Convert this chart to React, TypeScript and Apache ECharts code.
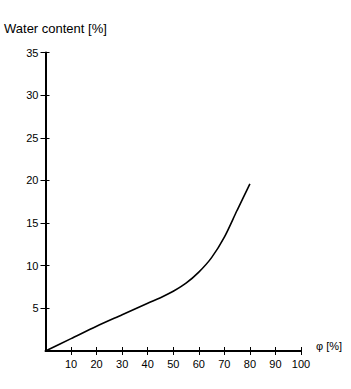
import React, { useEffect, useRef } from "react";
import * as echarts from "echarts";

const phi = [0, 10, 20, 30, 40, 45, 50, 55, 60, 65, 70, 75, 80];
const water = [0, 1.45, 2.9, 4.25, 5.6, 6.25, 7.0, 7.95, 9.25, 10.95, 13.35, 16.5, 19.6];
const yTitle = "Water content [%]";
const xTitle = "φ [%]";

export default function App() {
  const ref = useRef<HTMLDivElement>(null);
  useEffect(() => {
    if (!ref.current) return;
    const chart = echarts.init(ref.current, undefined, { renderer: "svg" });
    const font = "'Liberation Sans', Arial, sans-serif";
    const baseX = {
      type: "value",
      min: 0,
      max: 100,
      interval: 10,
      position: "bottom",
      splitLine: { show: false },
    };
    const baseY = {
      type: "value",
      min: 0,
      max: 35,
      interval: 5,
      position: "left",
      splitLine: { show: false },
    };
    chart.setOption({
      animation: false,
      backgroundColor: "#fff",
      grid: { left: 45.5, right: 50, top: 52.5, bottom: 38, containLabel: false },
      xAxis: [
        {
          ...baseX,
          axisLine: { show: true, lineStyle: { color: "#000", width: 2 } },
          axisTick: { show: true, length: 4, lineStyle: { color: "#000", width: 1 } },
          axisLabel: { show: true, color: "#000", fontSize: 11, fontFamily: font, margin: 7, showMinLabel: false },
        },
        {
          ...baseX,
          axisLine: { show: false },
          axisTick: { show: true, inside: true, length: 4, lineStyle: { color: "#000", width: 1 } },
          axisLabel: { show: false },
        },
      ],
      yAxis: [
        {
          ...baseY,
          axisLine: { show: true, lineStyle: { color: "#000", width: 2 } },
          axisTick: { show: true, length: 5, lineStyle: { color: "#000", width: 1 } },
          axisLabel: { show: true, color: "#000", fontSize: 11, fontFamily: font, margin: 7, showMinLabel: false },
        },
        {
          ...baseY,
          axisLine: { show: false },
          axisTick: { show: true, inside: true, length: 4, lineStyle: { color: "#000", width: 1 } },
          axisLabel: { show: false },
        },
      ],
      graphic: [
        {
          type: "text",
          left: 4,
          top: 22,
          style: { text: yTitle, fill: "#000", font: `13px ${font}` },
        },
        {
          type: "text",
          left: 316,
          top: 340,
          style: { text: xTitle, fill: "#000", font: `11px ${font}` },
        },
      ],
      series: [
        {
          type: "line",
          data: phi.map((p, i) => [p, water[i]]),
          smooth: 0.3,
          showSymbol: false,
          lineStyle: { color: "#000", width: 1.6 },
        },
      ],
    });
    return () => chart.dispose();
  }, []);
  return (
    <div
      ref={ref}
      style={{ position: "absolute", left: 0, top: 0, width: 351, height: 389 }}
    />
  );
}
